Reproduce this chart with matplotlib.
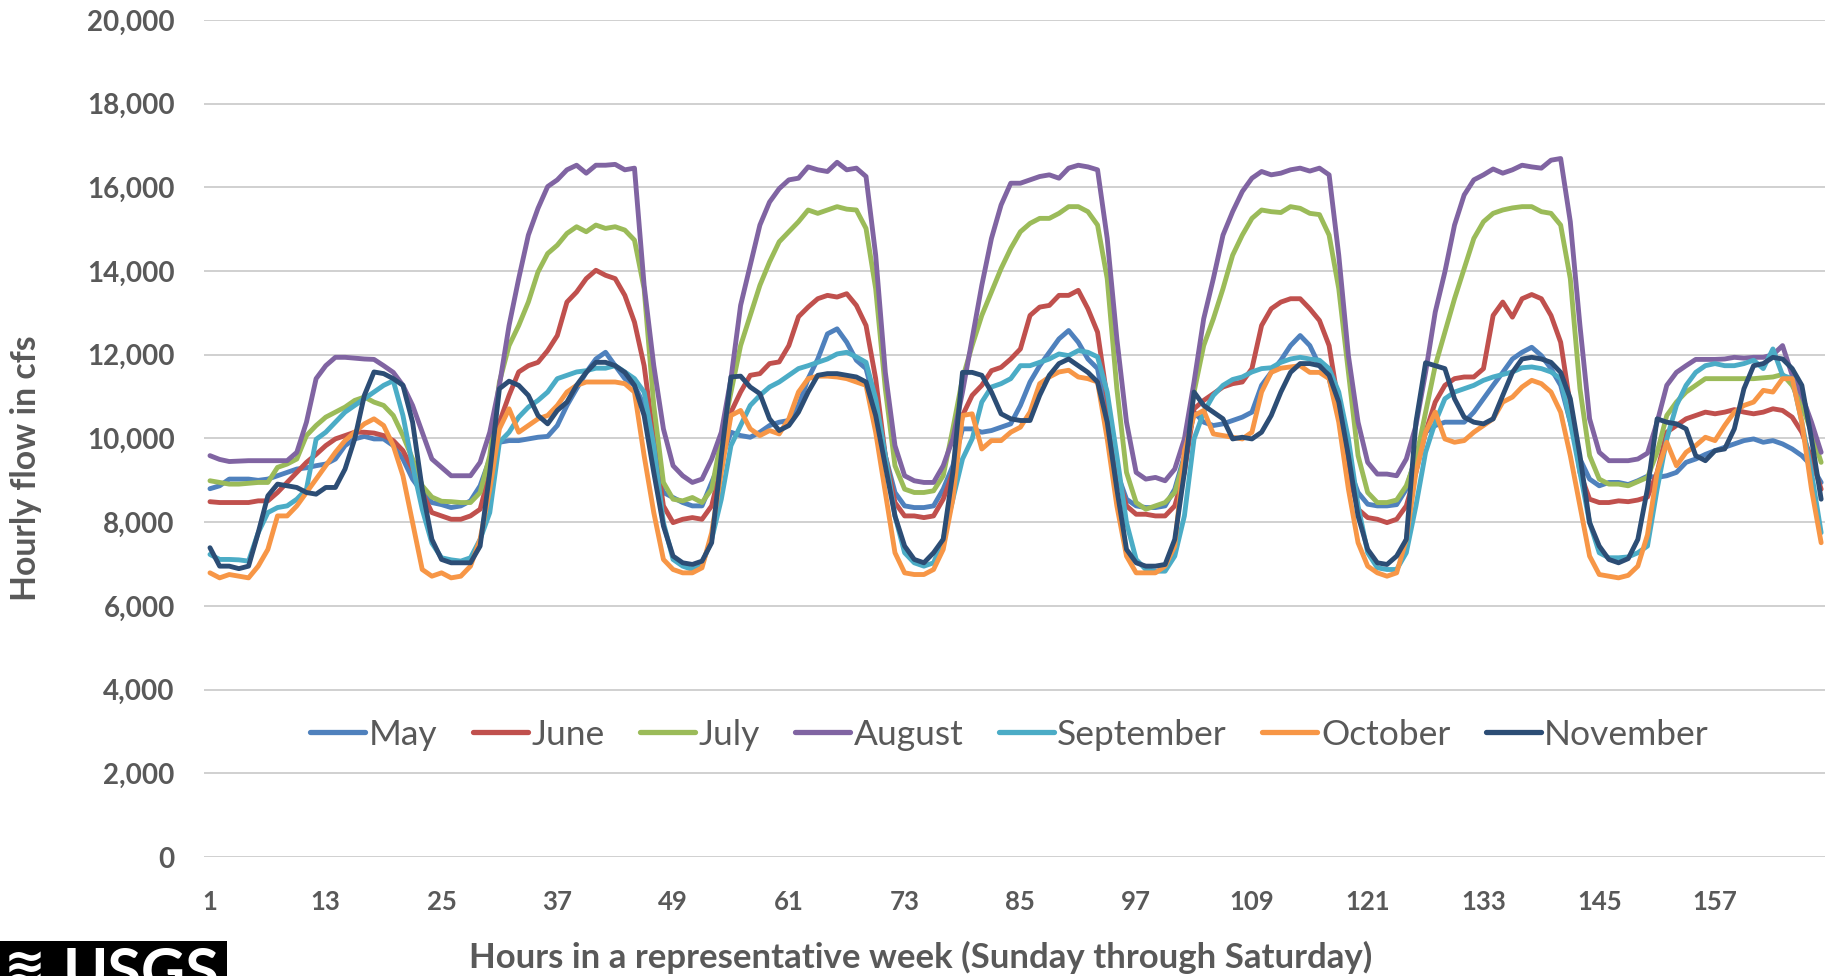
import matplotlib
matplotlib.use('Agg')
import matplotlib.pyplot as plt
from matplotlib.ticker import FuncFormatter
from matplotlib.patches import Rectangle

plt.rcParams['font.family'] = ['Lato', 'DejaVu Sans']

hours = list(range(1, 169))
x_ticks = list(range(1, 169, 12))
y_ticks = list(range(0, 20001, 2000))
series_names = ['May', 'June', 'July', 'August', 'September', 'October', 'November']

may = [8800, 8870, 9030, 9030, 9030, 9000, 9030, 9110, 9190, 9270, 9300, 9350, 9390, 9510, 9830, 9990, 10050, 9990, 9990, 9830, 9510, 9030, 8710, 8470,
       8420, 8350, 8390, 8510, 8870, 9510, 9910, 9950, 9950, 9990, 10030, 10050, 10310, 10790, 11190, 11580, 11900, 12060, 11740, 11430, 11270, 10790, 9590, 8710,
       8590, 8470, 8390, 8390, 8950, 9510, 10150, 10070, 10030, 10150, 10310, 10390, 10430, 10790, 11430, 11900, 12500, 12620, 12300, 11870, 11670, 10790, 9590, 8710,
       8390, 8350, 8350, 8390, 8790, 9350, 10230, 10230, 10150, 10190, 10270, 10350, 10790, 11350, 11740, 12060, 12380, 12580, 12300, 11900, 11670, 10430, 9190, 8550,
       8390, 8350, 8350, 8390, 8790, 9590, 10630, 10390, 10310, 10350, 10430, 10510, 10630, 11270, 11580, 11870, 12220, 12460, 12220, 11740, 11430, 10550, 9350, 8710,
       8430, 8390, 8390, 8420, 8790, 9590, 10150, 10310, 10390, 10390, 10390, 10630, 10950, 11270, 11580, 11900, 12060, 12180, 11980, 11670, 11270, 10390, 9510, 9030,
       8870, 8950, 8950, 8900, 8990, 9100, 9070, 9110, 9190, 9430, 9510, 9620, 9710, 9790, 9870, 9950, 9990, 9910, 9950, 9870, 9750, 9590, 9350, 8950]

june = [8490, 8470, 8470, 8470, 8470, 8510, 8510, 8710, 8950, 9190, 9430, 9620, 9830, 9990, 10070, 10150, 10150, 10130, 10070, 9950, 9710, 9270, 8710, 8230,
        8150, 8070, 8070, 8150, 8310, 9190, 10390, 11030, 11590, 11740, 11820, 12100, 12460, 13260, 13500, 13820, 14020, 13900, 13820, 13420, 12780, 11740, 9990, 8390,
        7990, 8070, 8110, 8070, 8390, 9350, 10630, 11110, 11510, 11550, 11790, 11830, 12220, 12910, 13140, 13340, 13420, 13380, 13460, 13180, 12700, 11430, 9590, 8470,
        8150, 8150, 8110, 8150, 8550, 9190, 10550, 11030, 11270, 11620, 11700, 11900, 12140, 12940, 13140, 13180, 13420, 13420, 13540, 13100, 12540, 10950, 9190, 8390,
        8190, 8190, 8150, 8150, 8390, 9190, 10710, 10910, 11070, 11230, 11310, 11350, 11670, 12700, 13100, 13260, 13340, 13340, 13100, 12820, 12220, 10790, 9190, 8310,
        8110, 8070, 7990, 8070, 8390, 9190, 10150, 10870, 11270, 11430, 11470, 11470, 11670, 12940, 13260, 12900, 13340, 13440, 13340, 12940, 12300, 10790, 9190, 8550,
        8470, 8470, 8510, 8490, 8530, 8600, 9190, 10150, 10310, 10470, 10550, 10630, 10590, 10630, 10690, 10630, 10590, 10630, 10710, 10670, 10510, 10150, 9510, 8790]

july = [8990, 8950, 8910, 8910, 8930, 8950, 8950, 9310, 9390, 9510, 10070, 10310, 10510, 10630, 10750, 10910, 10990, 10870, 10790, 10550, 10070, 9510, 8870, 8600,
        8500, 8490, 8470, 8470, 8710, 9590, 11350, 12220, 12700, 13260, 13980, 14420, 14620, 14900, 15060, 14940, 15100, 15020, 15060, 14980, 14740, 13580, 10790, 8950,
        8550, 8510, 8590, 8470, 8790, 9990, 11110, 12220, 12940, 13660, 14220, 14700, 14940, 15180, 15460, 15380, 15460, 15540, 15480, 15460, 15020, 13580, 11190, 9350,
        8790, 8710, 8710, 8750, 9110, 10230, 11430, 12220, 12940, 13500, 14060, 14540, 14940, 15140, 15260, 15260, 15380, 15540, 15540, 15420, 15100, 13820, 11190, 9190,
        8470, 8310, 8390, 8470, 8710, 9510, 11110, 12220, 12860, 13580, 14380, 14860, 15260, 15460, 15420, 15400, 15540, 15500, 15380, 15350, 14860, 13580, 11580, 9590,
        8710, 8470, 8470, 8530, 8870, 9510, 10630, 11740, 12540, 13340, 14060, 14780, 15180, 15380, 15460, 15510, 15540, 15540, 15420, 15380, 15100, 13820, 11190, 9590,
        9030, 8910, 8910, 8870, 8970, 9070, 9670, 10550, 10870, 11110, 11270, 11430, 11430, 11430, 11430, 11430, 11430, 11450, 11470, 11530, 11270, 10790, 10150, 9430]

august = [9590, 9500, 9450, 9460, 9470, 9470, 9470, 9470, 9470, 9670, 10390, 11430, 11740, 11940, 11940, 11920, 11900, 11890, 11740, 11580, 11270, 10790, 10150, 9510,
          9310, 9110, 9110, 9110, 9430, 10150, 11270, 12700, 13820, 14860, 15500, 16020, 16180, 16420, 16530, 16340, 16530, 16530, 16550, 16420, 16460, 13660, 11740, 10230,
          9350, 9110, 8950, 9030, 9510, 10150, 11430, 13180, 14140, 15100, 15650, 15970, 16180, 16220, 16490, 16420, 16380, 16600, 16420, 16460, 16260, 14380, 11580, 9830,
          9110, 8990, 8950, 8950, 9350, 9990, 11110, 12380, 13660, 14780, 15580, 16100, 16100, 16180, 16260, 16300, 16220, 16460, 16530, 16490, 16420, 14780, 12380, 10390,
          9190, 9030, 9070, 8990, 9270, 9990, 11350, 12860, 13820, 14860, 15420, 15900, 16220, 16380, 16300, 16340, 16420, 16460, 16390, 16460, 16300, 14380, 11980, 10390,
          9430, 9150, 9150, 9110, 9510, 10310, 11580, 13020, 13980, 15100, 15820, 16180, 16300, 16440, 16340, 16420, 16530, 16490, 16460, 16650, 16690, 15180, 12700, 10470,
          9670, 9470, 9470, 9470, 9510, 9650, 10390, 11270, 11580, 11740, 11890, 11890, 11890, 11900, 11940, 11920, 11940, 11940, 12000, 12220, 11510, 11030, 10390, 9670]

september = [7230, 7110, 7110, 7100, 7070, 7750, 8230, 8350, 8390, 8550, 8790, 9980, 10150, 10390, 10630, 10790, 10950, 11110, 11270, 11380, 10550, 9350, 8310, 7500,
             7150, 7100, 7070, 7150, 7590, 8230, 9910, 10150, 10510, 10750, 10910, 11110, 11430, 11510, 11590, 11620, 11680, 11680, 11740, 11590, 11430, 11110, 9830, 7990,
             7110, 6950, 6870, 7000, 7590, 8550, 9830, 10310, 10790, 11030, 11230, 11350, 11510, 11670, 11740, 11820, 11900, 12020, 12060, 11950, 11820, 10950, 9590, 8150,
             7270, 7030, 6950, 7030, 7590, 8550, 9510, 9990, 10870, 11230, 11310, 11430, 11740, 11740, 11820, 11900, 12020, 11980, 12100, 12060, 11950, 11110, 9590, 7990,
             7110, 6870, 6830, 6830, 7190, 8150, 9990, 10630, 11030, 11270, 11410, 11470, 11590, 11670, 11690, 11820, 11900, 11940, 11900, 11870, 11670, 11110, 9990, 8390,
             7270, 6910, 6870, 6870, 7270, 8390, 9670, 10390, 10950, 11110, 11190, 11270, 11390, 11470, 11530, 11590, 11690, 11710, 11670, 11590, 11430, 10390, 9190, 7990,
             7270, 7150, 7150, 7170, 7270, 7430, 8790, 9990, 10790, 11270, 11580, 11740, 11790, 11740, 11740, 11790, 11870, 11670, 12140, 11510, 11430, 10390, 9190, 7750]

october = [6790, 6670, 6750, 6710, 6670, 6950, 7350, 8150, 8150, 8390, 8710, 9030, 9350, 9670, 9950, 10150, 10350, 10470, 10310, 9830, 9110, 7990, 6870, 6710,
           6790, 6670, 6710, 6950, 7590, 8790, 10230, 10710, 10150, 10310, 10470, 10550, 10790, 11110, 11270, 11350, 11350, 11350, 11350, 11310, 11110, 9590, 8230, 7110,
           6870, 6790, 6790, 6910, 7750, 9190, 10550, 10670, 10230, 10070, 10190, 10110, 10470, 11110, 11430, 11490, 11490, 11470, 11430, 11350, 11270, 10150, 8710, 7270,
           6790, 6750, 6750, 6870, 7350, 8550, 10550, 10590, 9750, 9950, 9950, 10150, 10270, 10630, 11310, 11470, 11590, 11630, 11470, 11430, 11350, 9990, 8390, 7190,
           6790, 6790, 6790, 6950, 7430, 9700, 10550, 10670, 10110, 10070, 10030, 9990, 10150, 11110, 11580, 11680, 11710, 11740, 11580, 11580, 11430, 10390, 8790, 7510,
           6950, 6790, 6710, 6790, 7590, 9190, 10150, 10630, 9990, 9910, 9950, 10150, 10310, 10470, 10870, 10990, 11230, 11390, 11310, 11110, 10630, 9590, 8390, 7190,
           6750, 6710, 6670, 6730, 6950, 7700, 9190, 9910, 9350, 9670, 9830, 10030, 9950, 10310, 10630, 10790, 10870, 11150, 11110, 11430, 11430, 10390, 8790, 7510]

november = [7390, 6950, 6950, 6890, 6950, 7750, 8630, 8910, 8870, 8830, 8710, 8670, 8830, 8830, 9270, 9990, 11030, 11590, 11550, 11430, 11270, 10390, 8790, 7590,
            7110, 7030, 7030, 7030, 7430, 9190, 11190, 11370, 11270, 11030, 10550, 10350, 10670, 10870, 11270, 11580, 11820, 11820, 11740, 11580, 11270, 10550, 9190, 7910,
            7190, 7030, 6990, 7070, 7510, 9590, 11470, 11490, 11230, 11070, 10470, 10190, 10310, 10630, 11110, 11510, 11550, 11550, 11510, 11470, 11350, 10550, 9350, 8150,
            7430, 7110, 7030, 7270, 7590, 9190, 11580, 11580, 11510, 11110, 10590, 10470, 10430, 10430, 11030, 11510, 11790, 11900, 11740, 11580, 11350, 10390, 8790, 7350,
            7030, 6950, 6950, 6990, 7590, 9190, 11110, 10790, 10630, 10470, 9990, 10030, 9990, 10150, 10550, 11110, 11580, 11790, 11790, 11740, 11510, 10870, 9590, 8150,
            7350, 7030, 6990, 7190, 7590, 10390, 11810, 11740, 11670, 10950, 10510, 10390, 10350, 10470, 11030, 11580, 11900, 11940, 11900, 11820, 11580, 10950, 9590, 7990,
            7430, 7110, 7030, 7130, 7590, 8800, 10470, 10390, 10350, 10230, 9590, 9470, 9710, 9750, 10230, 11190, 11740, 11790, 11940, 11900, 11670, 11270, 9990, 8550]

colors = ['#4F81BD', '#C0504D', '#9BBB59', '#8064A2', '#4BACC6', '#F79646', '#2C4D75']
all_series = [may, june, july, august, september, october, november]

W, H = 1835, 976
fig = plt.figure(figsize=(W / 100, H / 100), dpi=100, facecolor='white')
ax = fig.add_axes([204 / W, 1 - 857 / H, (1825 - 204) / W, (857 - 20) / H])
ax.set_facecolor('white')

for name, vals, c in zip(series_names, all_series, colors):
    ax.plot(hours, vals, color=c, lw=3.5, label=name,
            solid_joinstyle='round', solid_capstyle='round')

ax.set_xlim(0.38, 168.4)
ax.set_ylim(0, 20000)
ax.set_yticks(y_ticks)
ax.set_xticks(x_ticks)
ax.yaxis.set_major_formatter(FuncFormatter(lambda v, p: f'{int(v):,}'))
ax.grid(axis='y', color='#D0D0D0', lw=1.4)
ax.grid(axis='x', visible=False)
ax.set_axisbelow(True)
for s in ax.spines.values():
    s.set_visible(False)
ax.tick_params(axis='y', length=0, pad=21, labelsize=20, labelcolor='#595959')
ax.tick_params(axis='x', length=0, pad=24, labelsize=18.5, labelcolor='#595959')
for lab in ax.get_xticklabels() + ax.get_yticklabels():
    lab.set_fontweight('bold')

leg = ax.legend(loc='center', bbox_to_anchor=(0.497, 0.146), ncol=7, frameon=False,
                fontsize=25.5, handlelength=1.55, handletextpad=0.1, columnspacing=1.0,
                labelcolor='#595959')
for h in leg.get_lines():
    h.set_linewidth(3.8)

fig.text(26 / W, 1 - 468 / H, 'Hourly flow in cfs', rotation=90, va='center', ha='center',
         fontsize=24.3, fontweight='bold', color='#595959')
fig.text(921 / W, 1 - 957 / H, 'Hours in a representative week (Sunday through Saturday)',
         va='center', ha='center', fontsize=25, fontweight='bold', color='#595959')

# USGS logo fragment at bottom-left (cut off by the lower edge, as in the source)
fig.patches.append(Rectangle((0, 0), 227 / W, 35 / H, transform=fig.transFigure,
                             facecolor='black', edgecolor='none'))
fig.text(4 / W, 1 - 945 / H, '≋', color='white', fontsize=36, fontweight='bold',
         va='top', ha='left', family='DejaVu Sans')
fig.text(63 / W, 1 - 946 / H, 'USGS', color='white', fontsize=44, fontweight='bold',
         va='top', ha='left')

fig.savefig('out.png', dpi=100, facecolor='white')
